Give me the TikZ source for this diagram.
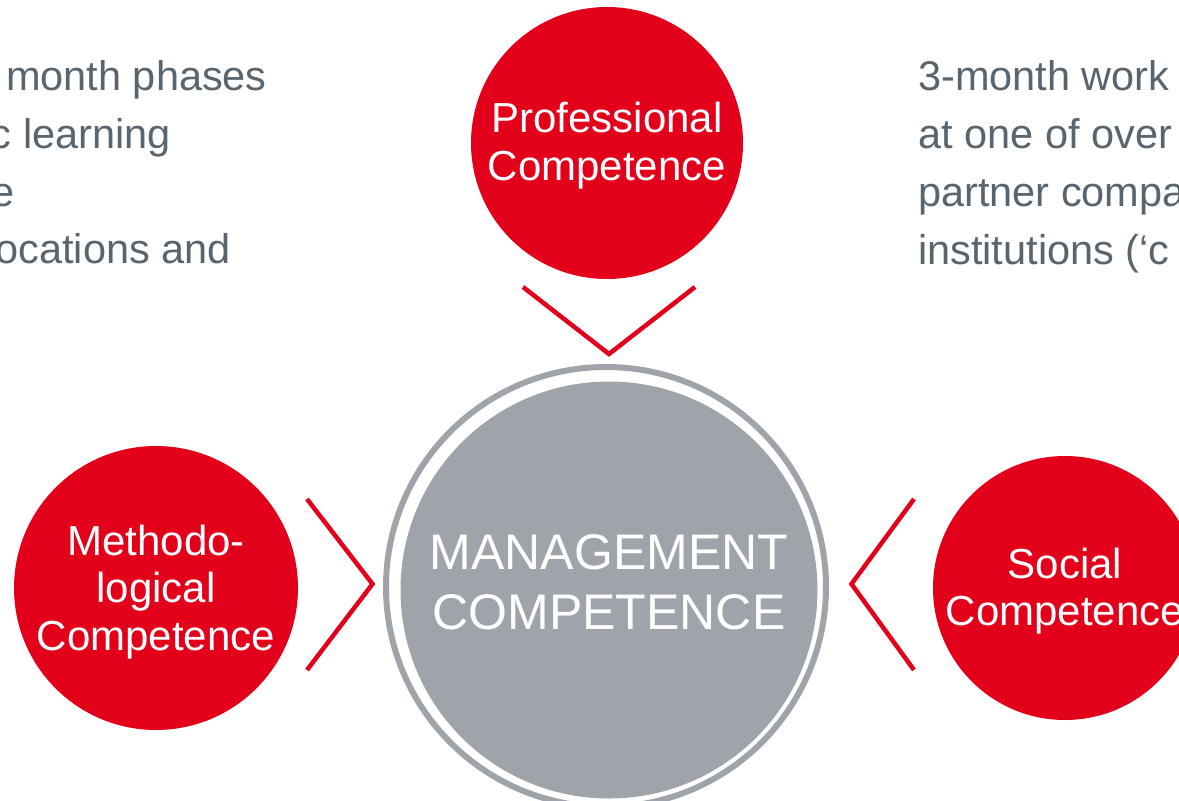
\documentclass[tikz,border=0pt]{standalone}
\usepackage{fontspec}
\setmainfont{Liberation Sans}
\definecolor{tred}{RGB}{226,0,26}
\definecolor{tgray}{RGB}{158,164,170}
\definecolor{ttext}{RGB}{88,100,110}
\begin{document}
\begin{tikzpicture}[x=1pt,y=-1pt,
  redc/.style={circle, fill=tred, inner sep=0pt, outer sep=0pt},
  ctext/.style={text=white, align=center, font=\fontsize{42}{47.5}\selectfont, inner sep=0pt},
  mtext/.style={text=white, align=center, font=\fontsize{50}{60}\selectfont, inner sep=0pt},
  side/.style={text=ttext, font=\fontsize{41.5}{58}\selectfont, inner sep=0pt},
  chev/.style={draw=tred, line width=4.5pt, line join=miter}
]
\useasboundingbox (0,0) rectangle (1179,801);
\clip (0,0) rectangle (1179,801);

% side texts
\node[side, anchor=base east] (l1) at (267,90) {month phases};
\node[side, anchor=base east] (l2) at (171,148) {c learning};
\node[side, anchor=base east] (l3) at (15,206) {e};
\node[side, anchor=base east] (l4) at (231,263) {ocations and};
\node[side, anchor=base west] (r1) at (918,90) {3-month work};
\node[side, anchor=base west] (r2) at (918,148) {at one of over};
\node[side, anchor=base west] (r3) at (918,206) {partner compa};
\node[side, anchor=base west] (r4) at (918,264) {institutions (‘c};

% circles
\node[redc, minimum size=272pt] (prof) at (607,143) {};
\node[redc, minimum size=284pt] (meth) at (156,588) {};
\node[redc, minimum size=264pt] (soc) at (1065,588) {};
\node[circle, draw=tgray, line width=6pt, minimum size=440pt, inner sep=0pt] (ring) at (606,587) {};
\node[circle, fill=tgray, minimum size=417pt, inner sep=0pt] (mgmt) at (609,590) {};

% circle texts
\node[ctext] (proft) at (607,145.6) {Professional\\Competence};
\node[ctext] (metht) at (156,592) {Methodo-\\logical\\Competence};
\node[ctext] (soct) at (1065,591) {Social\\Competence};
\node[mtext] (mgmtt) at (609,582) {MANAGEMENT\\COMPETENCE};

% chevrons
\coordinate (tA) at (523,287);
\coordinate (tB) at (609,354);
\coordinate (tC) at (695,287);
\coordinate (lA) at (307,499);
\coordinate (lB) at (372.5,584);
\coordinate (lC) at (307,670);
\coordinate (rA) at (914,499);
\coordinate (rB) at (851.5,584);
\coordinate (rC) at (914,670);
\draw[chev] (tA) -- (tB) -- (tC);
\draw[chev] (lA) -- (lB) -- (lC);
\draw[chev] (rA) -- (rB) -- (rC);
\end{tikzpicture}
\end{document}
